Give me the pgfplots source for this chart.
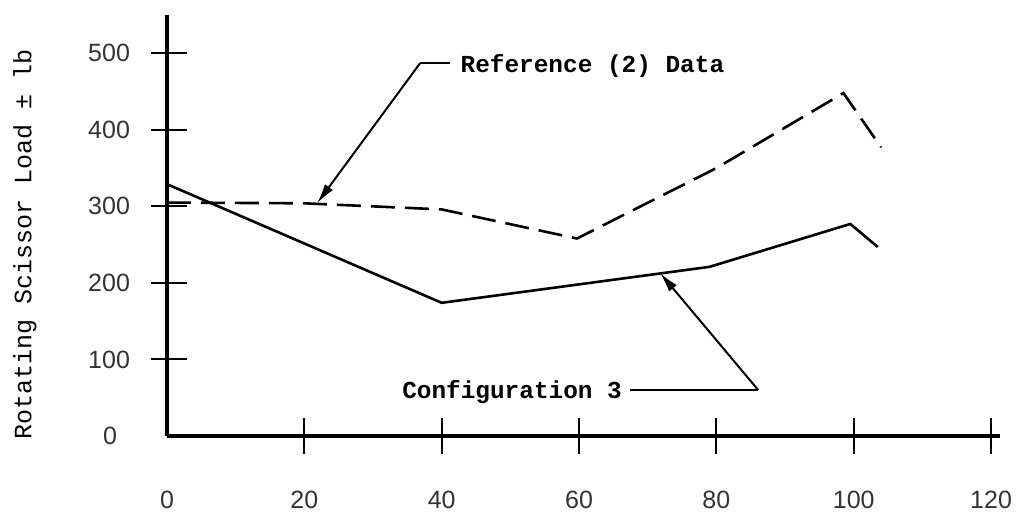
\documentclass[border=0pt]{standalone}
\usepackage{pgfplots}
\pgfplotsset{compat=1.18}
\usepackage{fontspec}
\setmainfont{Liberation Mono}
\newfontfamily\tickfont{Liberation Sans}
\usetikzlibrary{arrows.meta}
\begin{document}
\begin{tikzpicture}
\useasboundingbox (-83.5pt,-39.5pt) rectangle (425.5pt,218pt);
\begin{axis}[
  scale only axis, width=416.5pt, height=210.5pt,
  xmin=0, xmax=121.3, ymin=0, ymax=550,
  axis x line=bottom, axis y line=left,
  axis line style={line width=1.6pt, -},
  xtick={20,40,...,120}, ytick={100,200,...,500},
  extra x ticks={0}, extra y ticks={0},
  extra x tick style={major tick length=0pt, xticklabel style={yshift=-9pt}},
  extra y tick style={major tick length=0pt, yticklabel style={xshift=-6.5pt}},
  xtick align=center, ytick align=inside, major tick length=18pt,
  tick style={line width=1pt, black},
  every y tick/.append style={xshift=-8pt},
  /pgf/number format/assume math mode=true,
  ticklabel style={font=\tickfont\fontsize{12.5}{15}\selectfont, text=black!80},
  yticklabel style={anchor=east, xshift=-15pt},
  xticklabel style={yshift=-15pt},
  ylabel={Rotating Scissor Load ± lb},
  ylabel style={at={(axis description cs:-0.1705,0.454)}, anchor=center, font=\fontsize{12.5}{15}\selectfont},
  clip=false,
]
\addplot[black, line width=1.3pt] coordinates {
  (0,329) (40,174) (79,221) (99.5,277) (103.5,247)
};
\addplot[black, line width=1.3pt, dash pattern=on 12pt off 5pt] coordinates {
  (0,305) (20,304) (40,296) (59.7,258) (80,350) (98.5,448) (104,377)
};
\node[anchor=west, inner sep=0pt, font=\bfseries\fontsize{12.2}{14}\selectfont] at (axis cs:42.7,484) {Reference (2) Data};
\draw[line width=1pt] (axis cs:41.2,487) -- (axis cs:36.85,487);
\draw[line width=1pt, -{Latex[length=10pt, width=5pt]}] (axis cs:36.85,487) -- (axis cs:21.85,304);
\node[anchor=west, inner sep=0pt, font=\bfseries\fontsize{12.2}{14}\selectfont] at (axis cs:34.2,57.4) {Configuration 3};
\draw[line width=1pt] (axis cs:67.4,60) -- (axis cs:86.1,60);
\draw[line width=1pt, -{Latex[length=10pt, width=5pt]}] (axis cs:86.1,60) -- (axis cs:71.8,213);
\end{axis}
\end{tikzpicture}
\end{document}
